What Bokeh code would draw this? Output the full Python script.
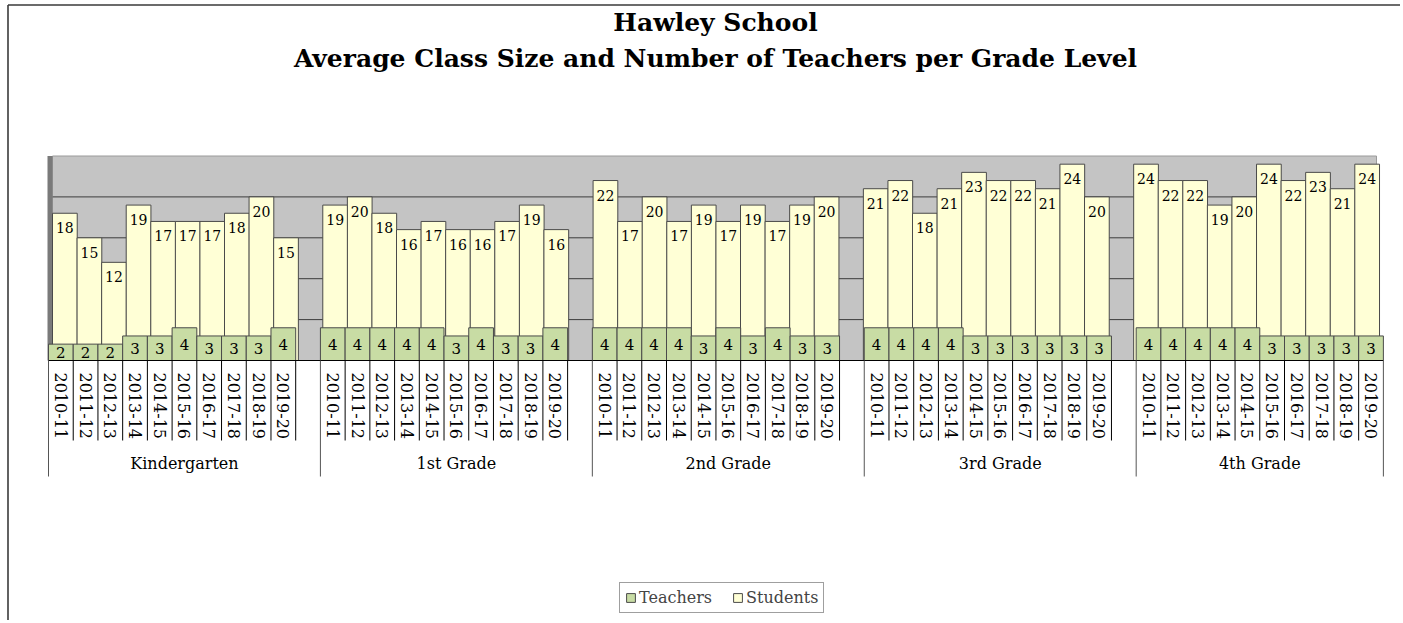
import math
from bokeh.plotting import figure
from bokeh.models import Range1d, ColumnDataSource, Legend, LegendItem
from bokeh.core.properties import value
from bokeh.embed import file_html
from bokeh.resources import INLINE

# ---------------- data ----------------
grades = ["Kindergarten", "1st Grade", "2nd Grade", "3rd Grade", "4th Grade"]
years = ["2010-11", "2011-12", "2012-13", "2013-14", "2014-15",
         "2015-16", "2016-17", "2017-18", "2018-19", "2019-20"]
teachers_k = [2, 2, 2, 3, 3, 4, 3, 3, 3, 4]
students_k = [18, 15, 12, 19, 17, 17, 17, 18, 20, 15]
teachers_1 = [4, 4, 4, 4, 4, 3, 4, 3, 3, 4]
students_1 = [19, 20, 18, 16, 17, 16, 16, 17, 19, 16]
teachers_2 = [4, 4, 4, 4, 3, 4, 3, 4, 3, 3]
students_2 = [22, 17, 20, 17, 19, 17, 19, 17, 19, 20]
teachers_3 = [4, 4, 4, 4, 3, 3, 3, 3, 3, 3]
students_3 = [21, 22, 18, 21, 23, 22, 22, 21, 24, 20]
teachers_4 = [4, 4, 4, 4, 4, 3, 3, 3, 3, 3]
students_4 = [24, 22, 22, 19, 20, 24, 22, 23, 21, 24]
value_ticks = [0, 5, 10, 15, 20, 25]

teachers = [teachers_k, teachers_1, teachers_2, teachers_3, teachers_4]
students = [students_k, students_1, students_2, students_3, students_4]

# ---------------- layout constants (pixels) ----------------
W, H = 1400, 620
PAGE_L, PAGE_T = 0, 0
SLOT_PX = 24.72
UNIT_PX = 8.18
X0_PAGE, Y0_PAGE = 48, 360
FONT = value("DejaVu Serif")


def ux(px):
    return (px - X0_PAGE) / SLOT_PX


def vy(py):
    return (Y0_PAGE - py) / UNIT_PX


# slot positions: one blank slot after each grade except the last
slots_per_group = len(years) + 1
n_slots = slots_per_group * len(grades) - 1
vmax = value_ticks[-1]

slot, t_vals, s_vals, yr_lbl = [], [], [], []
for g, grade in enumerate(grades):
    for j, yr in enumerate(years):
        slot.append(g * slots_per_group + j)
        t_vals.append(teachers[g][j])
        s_vals.append(students[g][j])
        yr_lbl.append(yr)


def persp(u):
    # 3D perspective shift of the back series (pixels -> slot units)
    return (4 - 8 * u / n_slots) / SLOT_PX


src = ColumnDataSource(dict(
    t_left=[s for s in slot],
    t_right=[s + 1 for s in slot],
    s_left=[s + persp(s) for s in slot],
    s_right=[s + 1 + persp(s) for s in slot],
    t=t_vals,
    s=s_vals,
    zero=[0] * len(slot),
    xc=[s + 0.5 for s in slot],
    xs=[s + 0.5 + persp(s) for s in slot],
    t_mid=[t / 2 for t in t_vals],
    s_lab=[v - 14.5 / UNIT_PX for v in s_vals],
    t_txt=[str(t) for t in t_vals],
    s_txt=[str(v) for v in s_vals],
    yr=yr_lbl,
    yr_y=[vy(372)] * len(slot),
))

p = figure(width=W, height=H, output_backend="svg", toolbar_location=None,
           x_range=Range1d(ux(PAGE_L), ux(PAGE_L + W)),
           y_range=Range1d(vy(PAGE_T + H), vy(PAGE_T)),
           x_axis_location=None, y_axis_location=None, min_border=0)
p.outline_line_color = None
p.grid.visible = False
p.background_fill_color = "white"
p.border_fill_color = "white"

# chart border (left and top)
p.segment(x0=[ux(7.5)], x1=[ux(7.5)], y0=[vy(PAGE_T + H)], y1=[vy(4.5)],
          line_color="#3a3a3a", line_width=1.6)
p.segment(x0=[ux(7.5)], x1=[ux(PAGE_L + W)], y0=[vy(4.5)], y1=[vy(4.5)],
          line_color="#3a3a3a", line_width=1.6)

# title
p.text(x=[ux(715)], y=[vy(22)],
       text=["Hawley School"], text_font=FONT, text_font_style="bold",
       text_font_size="25px", text_align="center", text_baseline="middle",
       text_color="black")
p.text(x=[ux(715)], y=[vy(58)],
       text=["Average Class Size and Number of Teachers per Grade Level"],
       text_font=FONT, text_font_style="bold", text_font_size="25px",
       text_align="center", text_baseline="middle", text_color="black")

# back wall
wall_l, wall_r = ux(52), ux(1376)
p.quad(left=[wall_l], right=[wall_r], bottom=[0], top=[vmax],
       fill_color="#c4c4c4", line_color="#9a9a9a", line_width=1)
grid_v = [v for v in value_ticks if 0 < v < vmax]
p.segment(x0=[wall_l] * len(grid_v), x1=[wall_r] * len(grid_v), y0=grid_v, y1=grid_v,
          line_color="#3c3c3c", line_width=1)
# side wall
p.quad(left=[ux(47)], right=[wall_l], bottom=[0], top=[vmax],
       fill_color="#7a7a7a", line_color=None)

# bars
s_r = p.quad(left="s_left", right="s_right", bottom="zero", top="s", source=src,
             fill_color="#ffffd6", line_color="#4a4a4a", line_width=1)
t_r = p.quad(left="t_left", right="t_right", bottom="zero", top="t", source=src,
             fill_color="#c8dca4", line_color="#4a4a4a", line_width=1)

# data labels
p.text(x="xs", y="s_lab", text="s_txt", source=src, text_font=FONT,
       text_font_size="14px", text_align="center", text_baseline="middle",
       text_color="black")
p.text(x="xc", y="t_mid", text="t_txt", source=src, text_font=FONT,
       text_font_size="15px", text_align="center", text_baseline="middle",
       text_color="black")

# category axis
p.segment(x0=[0], x1=[n_slots], y0=[0], y1=[0], line_color="black", line_width=1.2)
group_edges = [g * slots_per_group for g in range(len(grades))] + [n_slots]
minor_edges = [u for u in range(1, n_slots) if u not in group_edges]
p.segment(x0=minor_edges, x1=minor_edges, y0=[0] * len(minor_edges),
          y1=[vy(440)] * len(minor_edges), line_color="black", line_width=1)
p.segment(x0=group_edges, x1=group_edges, y0=[0] * len(group_edges),
          y1=[vy(476)] * len(group_edges), line_color="#555555", line_width=1)

p.text(x="xc", y="yr_y", text="yr", source=src, text_font=FONT,
       text_font_size="16px", angle=-math.pi / 2, text_align="left",
       text_baseline="middle", text_color="black")

grp_x = [(group_edges[g] + min(group_edges[g] + slots_per_group, n_slots)) / 2
         for g in range(len(grades))]
p.text(x=grp_x, y=[vy(463)] * len(grades), text=grades, text_font=FONT,
       text_font_size="16px", text_align="center", text_baseline="middle",
       text_color="black")

# legend
legend = Legend(items=[LegendItem(label="Teachers", renderers=[t_r]),
                       LegendItem(label="Students", renderers=[s_r])],
                orientation="horizontal", location=(619, H - 613),
                label_text_font="DejaVu Serif", label_text_font_size="16px",
                glyph_width=11, glyph_height=11, label_standoff=3, spacing=20,
                padding=5, margin=0, label_height=17,
                border_line_color="#404040", border_line_width=1,
                background_fill_color="white", background_fill_alpha=1)
p.add_layout(legend)

open("out.html", "w").write(file_html(p, INLINE))
